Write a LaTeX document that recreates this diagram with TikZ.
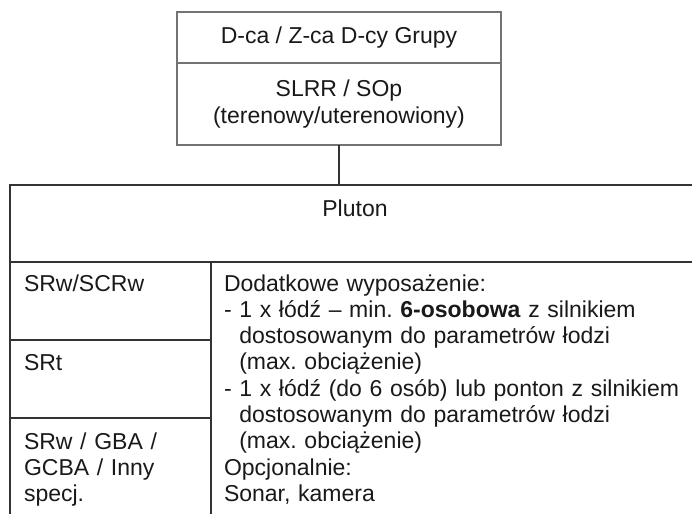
\documentclass[tikz,border=0pt]{standalone}
\usepackage{fontspec}
\setmainfont{Liberation Sans}
\frenchspacing
\usetikzlibrary{positioning}
\tikzset{
  cell/.style = {draw=black!80, line width=2.2pt, inner sep=0pt, outer sep=0pt},
  topcell/.style = {cell, draw=black!55, line width=1.6pt, minimum width=324pt,
    align=center},% ramka dowodcy grupy
  txt/.style = {inner sep=0pt, outer sep=0pt, align=left, text=black!90},
  link/.style = {draw=black!80, line width=1.6pt}
}

\begin{document}
\begin{tikzpicture}[x=1pt, y=-1pt, font=\fontsize{23}{26.3}\selectfont, text=black!90]
\useasboundingbox (0,0) rectangle (692,513);
% dowodztwo
\node[topcell, minimum height=51pt, anchor=north] (head) at (339,12) {D-ca / Z-ca D-cy Grupy};
\node[topcell, minimum height=82pt, below=0pt of head] (sub) {SLRR / SOp\\(terenowy/uterenowiony)};
% pluton
\node[cell, minimum width=690pt, minimum height=77pt, anchor=north west] (pluton) at (10,185) {};
\node[cell, minimum width=201pt, minimum height=78pt, anchor=north west] (srw) at (pluton.south west) {};
\node[cell, minimum width=201pt, minimum height=78pt, anchor=north west] (srt) at (srw.south west) {};
\node[cell, minimum width=201pt, minimum height=110pt, anchor=north west] (srgba) at (srt.south west) {};
\node[cell, minimum width=489pt, minimum height=266pt, anchor=north west] (gear) at (srw.north east) {};
\draw[link] (sub.south) -- (sub.south |- pluton.north);
% napisy
\node[txt, anchor=base] (plutontxt) at ([yshift=-31pt]pluton.north) {Pluton};
\node[txt, anchor=base west] (srwtxt) at ([shift={(14pt,-29pt)}]srw.north west) {SRw/SCRw};
\node[txt, anchor=base west] (srttxt) at ([shift={(14pt,-30pt)}]srt.north west) {SRt};
\node[txt, anchor=base west, text width=180pt] (srgbatxt) at ([shift={(14pt,-31pt)}]srgba.north west)
  {SRw / GBA /\\GCBA / Inny\\specj.};
\node[txt, anchor=base west, text width=470pt] (geartxt) at ([shift={(13pt,-29pt)}]gear.north west)
  {Dodatkowe wyposażenie:\\
   - 1 x łódź – min. \textbf{6-osobowa} z silnikiem\\
   \phantom{- }dostosowanym do parametrów łodzi\\
   \phantom{- }(max. obciążenie)\\
   - 1 x łódź (do 6 osób) lub ponton z silnikiem\\
   \phantom{- }dostosowanym do parametrów łodzi\\
   \phantom{- }(max. obciążenie)\\
   Opcjonalnie:\\
   Sonar, kamera};
\end{tikzpicture}
\end{document}
